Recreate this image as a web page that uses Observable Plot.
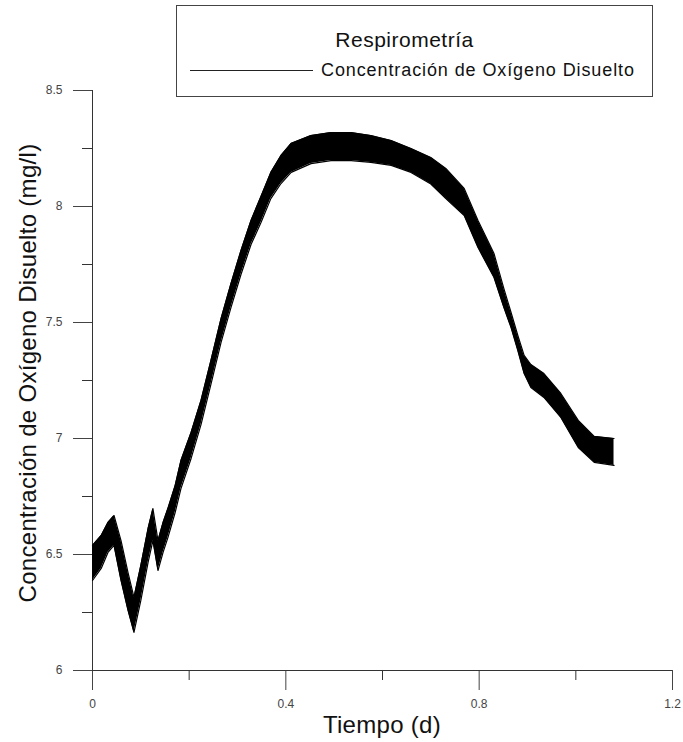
<!DOCTYPE html>
<html><head><meta charset="utf-8">
<script src="https://cdn.jsdelivr.net/npm/d3@7"></script>
<script src="https://cdn.jsdelivr.net/npm/@observablehq/plot@0.6"></script>
<style>
body{margin:0;background:#fff;font-family:"Liberation Sans",Arial,sans-serif;}
#wrap{position:relative;width:683px;height:742px;overflow:hidden;}
#legend{position:absolute;left:176px;top:5px;width:477px;height:92px;border:1px solid #444;box-sizing:border-box;background:#fff;}
#ltitle{position:absolute;left:0;width:100%;top:22px;text-align:center;font-size:21px;letter-spacing:0.5px;color:#111;margin-left:-10px;}
#lline{position:absolute;left:13px;top:64px;width:123px;height:0;border-top:1.3px solid #222;}
#ltext{position:absolute;left:144px;top:54px;font-size:18px;letter-spacing:0.9px;color:#111;white-space:nowrap;}
#xtitle{position:absolute;left:92px;width:580px;top:711px;text-align:center;font-size:24px;letter-spacing:0.3px;color:#111;}
#ytitle{position:absolute;left:28px;top:373px;transform:translate(-50%,-50%) rotate(-90deg);font-size:24px;letter-spacing:0.3px;color:#111;white-space:nowrap;}
</style>
</head><body>
<div id="wrap"></div>
<script>
// Tiempo (d) and dissolved-oxygen band (lower / upper envelope, mg/l)
const tiempo = [0, 0.018, 0.032, 0.0445, 0.059, 0.0735, 0.0858, 0.100, 0.115, 0.125, 0.1355, 0.146, 0.156, 0.171, 0.183, 0.204, 0.2245, 0.245, 0.266, 0.2866, 0.3072, 0.328, 0.3486, 0.369, 0.390, 0.411, 0.452, 0.4935, 0.535, 0.576, 0.618, 0.659, 0.700, 0.731, 0.769, 0.7976, 0.8307, 0.851, 0.866, 0.880, 0.893, 0.907, 0.934, 0.969, 1.005, 1.038, 1.079];
const odMax = [6.539, 6.582, 6.638, 6.668, 6.560, 6.422, 6.315, 6.453, 6.612, 6.698, 6.560, 6.638, 6.698, 6.797, 6.905, 7.026, 7.164, 7.336, 7.517, 7.668, 7.810, 7.940, 8.043, 8.147, 8.220, 8.272, 8.306, 8.319, 8.319, 8.306, 8.284, 8.250, 8.211, 8.164, 8.078, 7.940, 7.797, 7.647, 7.543, 7.444, 7.358, 7.319, 7.280, 7.194, 7.078, 7.009, 7.000];
const odMin = [6.388, 6.440, 6.509, 6.539, 6.388, 6.259, 6.164, 6.302, 6.466, 6.560, 6.431, 6.509, 6.573, 6.681, 6.784, 6.914, 7.060, 7.233, 7.414, 7.565, 7.707, 7.836, 7.931, 8.034, 8.099, 8.147, 8.185, 8.198, 8.198, 8.190, 8.177, 8.147, 8.097, 8.034, 7.961, 7.823, 7.694, 7.565, 7.478, 7.379, 7.280, 7.220, 7.177, 7.091, 6.961, 6.897, 6.884];

const xTicks = [0, 0.4, 0.8, 1.2];
const xTickLabels = ["0", "0.4", "0.8", "1.2"];
const xMinorTicks = [0.2, 0.6, 1.0];
const yTicks = [6, 6.5, 7, 7.5, 8, 8.5];
const yTickLabels = ["6", "6.5", "7", "7.5", "8", "8.5"];
const yMinorTicks = [6.25, 6.75, 7.25, 7.75, 8.25];

const rows = tiempo.map((t, i) => ({t, lo: odMin[i], hi: odMax[i]}));

const chart = Plot.plot({
  width: 683,
  height: 742,
  marginLeft: 92,
  marginRight: 11,
  marginTop: 90,
  marginBottom: 72,
  style: {fontFamily: "Liberation Sans, Arial, sans-serif", fontSize: "12px", background: "#fff", color: "#444"},
  x: {domain: [0, 1.2]},
  y: {domain: [6, 8.5]},
  marks: [
    Plot.axisX(xTicks, {tickSize: 20, tickPadding: 9, tickFormat: (d) => xTickLabels[xTicks.indexOf(d)], color: "#444", fontSize: 12, label: null}),
    Plot.axisX(xMinorTicks, {tickSize: 10, tickFormat: () => "", color: "#333", label: null}),
    Plot.axisY(yTicks, {tickSize: 19, tickPadding: 11, tickFormat: (d) => yTickLabels[yTicks.indexOf(d)], color: "#444", fontSize: 12, label: null}),
    Plot.axisY(yMinorTicks, {tickSize: 10, tickFormat: () => "", color: "#333", label: null}),
    Plot.ruleX([0], {stroke: "#333"}),
    Plot.ruleY([6], {stroke: "#333"}),
    Plot.areaY(rows, {x: "t", y1: "lo", y2: "hi", fill: "#000", curve: "linear"}),
    Plot.line(rows, {x: "t", y: "lo", stroke: "#000", strokeWidth: 1.2}),
    Plot.line(rows, {x: "t", y: "hi", stroke: "#000", strokeWidth: 1.2})
  ]
});

const wrap = document.getElementById("wrap");
wrap.appendChild(chart);

const legend = document.createElement("div");
legend.id = "legend";
legend.innerHTML = '<div id="ltitle">Respirometría</div><div id="lline"></div><div id="ltext">Concentración de Oxígeno Disuelto</div>';
wrap.appendChild(legend);

const xt = document.createElement("div");
xt.id = "xtitle"; xt.textContent = "Tiempo (d)";
wrap.appendChild(xt);
const yt = document.createElement("div");
yt.id = "ytitle"; yt.textContent = "Concentración de Oxígeno Disuelto (mg/l)";
wrap.appendChild(yt);
</script>
</body></html>
